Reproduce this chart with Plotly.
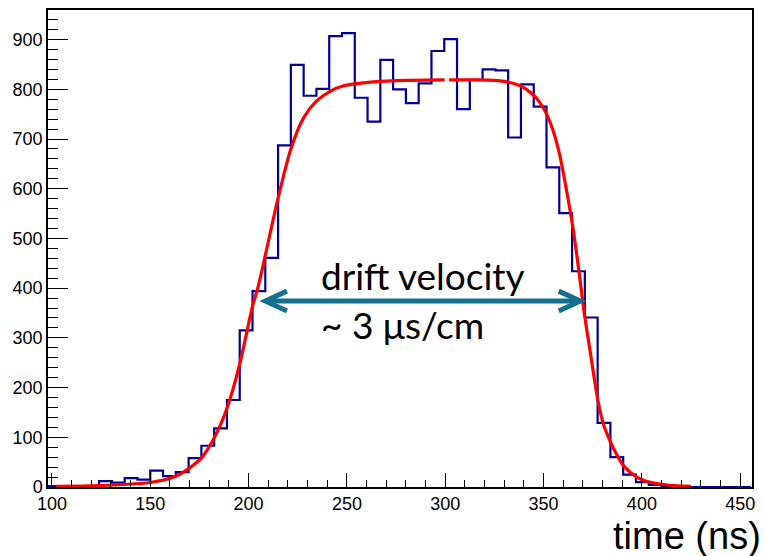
import plotly.graph_objects as go

# Drift-time histogram: 55 bins of 6.5 ns starting at 98 ns
bin_start = 98.0
bin_width = 6.5
counts = [2, 0, 0, 0, 12, 9, 18, 15, 33, 22,
          30, 58, 83, 118, 175, 315, 394, 461, 687, 849,
          787, 801, 907, 913, 783, 735, 859, 800, 772, 812,
          877, 901, 760, 819, 840, 838, 703, 810, 765, 643,
          551, 434, 341, 129, 60, 25, 10, 4, 1, 0,
          0, 0, 0, 0, 0]

# Fit curve sampled along the drawn function (two pieces)
fit_t1 = [102, 120, 136, 150, 162.7, 169.5, 176, 182.4, 188.9, 195.3,
          201.9, 205, 208.5, 215, 221.5, 227.9, 234.2, 241, 248.3, 263.6,
          280.5, 299.7]
fit_y1 = [1.5, 2.5, 5, 9, 21, 37, 58, 98, 157, 244,
          362, 405, 466, 581, 680, 742, 775, 795, 807, 815,
          818, 819]
fit_t2 = [302, 314.4, 325, 331.4, 338.2, 345, 348.3, 351.8, 355, 358.2,
          362, 365, 368, 370.7, 374, 377.6, 380.4, 384.1, 387.1, 390.6,
          397.4, 403.8, 410.9, 418, 425]
fit_y2 = [819, 819, 818, 815, 807, 788, 772, 748, 715, 668,
          590, 520, 434, 350, 265, 175, 127, 90, 66, 43,
          20, 10, 5, 2.5, 1.5]

# Drift-time window marked by the arrow
arrow_from = 208.5
arrow_to = 368.7
arrow_level = 374

edges = [bin_start + i * bin_width for i in range(len(counts) + 1)]
step_x = edges
step_y = counts + [counts[-1]]

fig = go.Figure()
fig.add_trace(go.Scatter(
    x=step_x, y=step_y, mode="lines", line_shape="hv",
    line=dict(color="#000099", width=2.2), hoverinfo="skip", showlegend=False))
fig.add_trace(go.Scatter(
    x=fit_t1 + [None] + fit_t2, y=fit_y1 + [None] + fit_y2,
    mode="lines", line=dict(color="#ff0000", width=3.2, shape="spline", smoothing=0.8),
    connectgaps=False, hoverinfo="skip", showlegend=False))

# double-headed arrow with open chevron heads
teal = "#15708f"
dx, dy = 11.0, 20.0
fig.add_shape(type="line", xref="x", yref="y",
              x0=arrow_from + 1, x1=arrow_to - 1, y0=arrow_level, y1=arrow_level,
              line=dict(color=teal, width=5))
for tip, sgn in ((arrow_from, 1), (arrow_to, -1)):
    fig.add_shape(type="path", xref="x", yref="y",
                  path=f"M {tip + sgn*dx},{arrow_level + dy} L {tip},{arrow_level} L {tip + sgn*dx},{arrow_level - dy}",
                  line=dict(color=teal, width=5))

text_font = dict(family="Lato, 'Open Sans', sans-serif", size=37, color="black")
fig.add_annotation(x=236.0, y=426, xref="x", yref="y", text="drift velocity",
                   showarrow=False, xanchor="left", yanchor="middle", font=text_font)
fig.add_annotation(x=236.0, y=326, xref="x", yref="y", text="~ 3 μs/cm",
                   showarrow=False, xanchor="left", yanchor="middle", font=text_font)

fig.add_annotation(x=1, y=0, xref="paper", yref="paper", text="time (ns)",
                   showarrow=False, xanchor="right", yanchor="top", xshift=10, yshift=-27,
                   borderpad=0,
                   font=dict(family="Liberation Sans, Arial, sans-serif", size=38, color="black"))

tick_font = dict(family="Liberation Sans, Arial, sans-serif", size=18, color="black")
fig.update_xaxes(range=[98, 456], tick0=0, dtick=50, ticks="inside", ticklen=14,
                 tickwidth=1.2, tickcolor="black", tickfont=tick_font,
                 minor=dict(ticks="inside", dtick=10, ticklen=7, tickcolor="black", tickwidth=1.2),
                 showline=True, linecolor="black", linewidth=1.5, mirror=True,
                 showgrid=False, zeroline=False)
fig.update_yaxes(range=[0, 959.5], tick0=0, dtick=100, ticks="inside", ticklen=20,
                 tickwidth=1.2, tickcolor="black", tickfont=tick_font,
                 minor=dict(ticks="inside", dtick=20, ticklen=10, tickcolor="black", tickwidth=1.2),
                 showline=True, linecolor="black", linewidth=1.5, mirror=True,
                 showgrid=False, zeroline=False)
fig.update_layout(width=765, height=556, margin=dict(l=48, r=13, t=8, b=69),
                  paper_bgcolor="white", plot_bgcolor="white")

fig.write_html("out.html")
